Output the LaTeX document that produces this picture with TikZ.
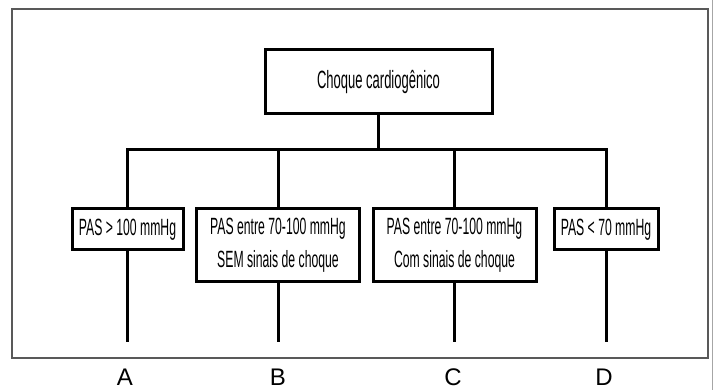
\documentclass[tikz,border=0pt]{standalone}
\usepackage{fontspec}
\setmainfont{Liberation Sans}
\newfontfamily\narrowfont[FakeStretch=0.52]{Liberation Sans}
\begin{document}
\begin{tikzpicture}[x=1pt,y=-1pt,
  boxstyle/.style={draw=black,line width=3pt,inner sep=0pt,align=center,font=\narrowfont\fontsize{23.5}{33}\selectfont},
  conn/.style={draw=black,line width=3pt},
  letter/.style={inner sep=0pt,font=\fontsize{24}{24}\selectfont}]
\useasboundingbox (0,0) rectangle (713,390);
\fill[white] (0,0) rectangle (713,390);
\draw[gray!70!black,line width=1.6pt] (12,9) rectangle (708,358);
\draw[gray!70,line width=1pt] (712,0) -- (712,390);
\node[boxstyle,minimum width=227pt,minimum height=64pt,font=\narrowfont\fontsize{25}{28}\selectfont] (top) at (378.5,82) {Choque cardiogênico};
\node[boxstyle,minimum width=111pt,minimum height=41pt] (A) at (127.5,229.5) {PAS > 100 mmHg};
\node[boxstyle,minimum width=163pt,minimum height=73pt] (B) at (278,245) {PAS entre 70-100 mmHg\\SEM sinais de choque};
\node[boxstyle,minimum width=163pt,minimum height=73pt] (C) at (454.5,245) {PAS entre 70-100 mmHg\\Com sinais de choque};
\node[boxstyle,minimum width=104pt,minimum height=41pt] (D) at (606,229.5) {PAS < 70 mmHg};
\coordinate (busL) at (127.5,150);
\coordinate (busR) at (606,150);
\draw[conn,line cap=rect] (busL) -- (busR);
\draw[conn] (top.south) -- (top.south |- busL);
\foreach \n in {A,B,C,D}{
  \draw[conn] (\n.north) -- (\n.north |- busL);
}
\coordinate (eA) at (127.5,342);
\coordinate (eB) at (278,342);
\coordinate (eC) at (454.5,342);
\coordinate (eD) at (606,342);
\draw[conn] (A.south) -- (eA);
\draw[conn] (B.south) -- (eB);
\draw[conn] (C.south) -- (eC);
\draw[conn] (D.south) -- (eD);
\node[letter] (lA) at (125,377) {A};
\node[letter] (lB) at (278,377) {B};
\node[letter] (lC) at (453,377) {C};
\node[letter] (lD) at (604,377) {D};
\end{tikzpicture}
\end{document}
